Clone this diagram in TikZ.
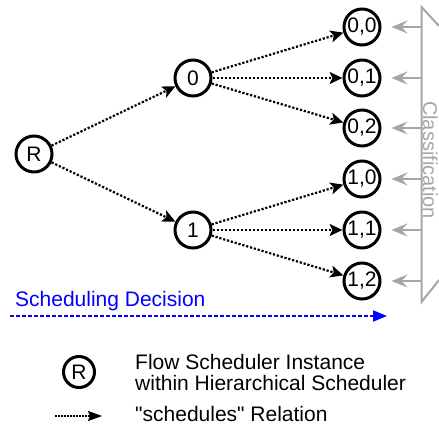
\documentclass[tikz,border=0pt]{standalone}
\usepackage{fontspec}
\setmainfont{Liberation Sans}[Ligatures=TeXOff]
\usetikzlibrary{arrows.meta}

\begin{document}
\begin{tikzpicture}[x=1pt, y=-1pt,
  font=\fontsize{21}{21}\selectfont,
  sched/.style={circle, draw, line width=3pt, minimum size=36pt, inner sep=0pt},
  rel/.style={line width=2.2pt, dash pattern=on 2.2pt off 1.8pt,
              -{Stealth[length=13pt, width=12pt, inset=3pt]}},
  cls/.style={draw=gray!70, line width=2pt, shorten >=10pt,
              -{Stealth[length=16pt, width=13pt, inset=6pt]}},
  decision/.style={draw=blue, line width=2pt, dash pattern=on 4pt off 2pt,
              -{Stealth[length=14pt, width=11pt, inset=0pt]}}]
\useasboundingbox (0,0) rectangle (439,428);

% scheduler tree
\node[sched] (R) at (34,154) {R};
\node[sched] (n0) at (193,78) {0};
\node[sched] (n1) at (193,230) {1};
\node[sched] (n00) at (362,27) {0,0};
\node[sched] (n01) at (362,78) {0,1};
\node[sched] (n02) at (362,128) {0,2};
\node[sched] (n10) at (362,179) {1,0};
\node[sched] (n11) at (362,230) {1,1};
\node[sched] (n12) at (362,281) {1,2};

\draw[rel] (R) -- (n0);
\draw[rel] (R) -- (n1);
\draw[rel] (n0) -- (n00);
\draw[rel] (n0) -- (n01);
\draw[rel] (n0) -- (n02);
\draw[rel] (n1) -- (n10);
\draw[rel] (n1) -- (n11);
\draw[rel] (n1) -- (n12);

% classification stage
\draw[gray!70, line width=2pt] (439,26) -- (421.5,7) -- (421.5,302) -- (439,280);
\foreach \n/\y in {n00/27, n01/78, n02/128, n10/179, n11/230, n12/281} {
  \coordinate (c-\n) at (421.5,\y);
  \draw[cls] (c-\n) -- (\n);
}
\node[rotate=-90, text=gray!70, inner sep=0pt, font=\fontsize{20}{20}\selectfont]
  (cls) at (430.3,160) {Classification};

% scheduling decision axis
\node[anchor=base west, text=blue, inner sep=0pt] (sdtext) at (15,306.7) {Scheduling Decision};
\coordinate (sd-a) at (10,316);
\coordinate (sd-b) at (387,316);
\draw[decision] (sd-a) -- (sd-b);

% legend
\node[circle, draw, line width=3pt, minimum size=31pt, inner sep=0pt] (legR) at (79,372) {R};
\node[anchor=base west, inner sep=0pt] (legR-t1) at (135,369.3) {Flow Scheduler Instance};
\node[anchor=base west, inner sep=0pt] (legR-t2) at (135,390.7) {within Hierarchical Scheduler};
\coordinate (leg-a) at (55,416);
\coordinate (leg-b) at (102,416);
\draw[line width=1.6pt, dash pattern=on 1.6pt off 1.4pt,
      -{Stealth[length=14pt, width=10pt, inset=2pt]}] (leg-a) -- (leg-b);
\node[anchor=base west, inner sep=0pt] (leg-t) at (135,421.7) {"schedules" Relation};
\end{tikzpicture}
\end{document}
